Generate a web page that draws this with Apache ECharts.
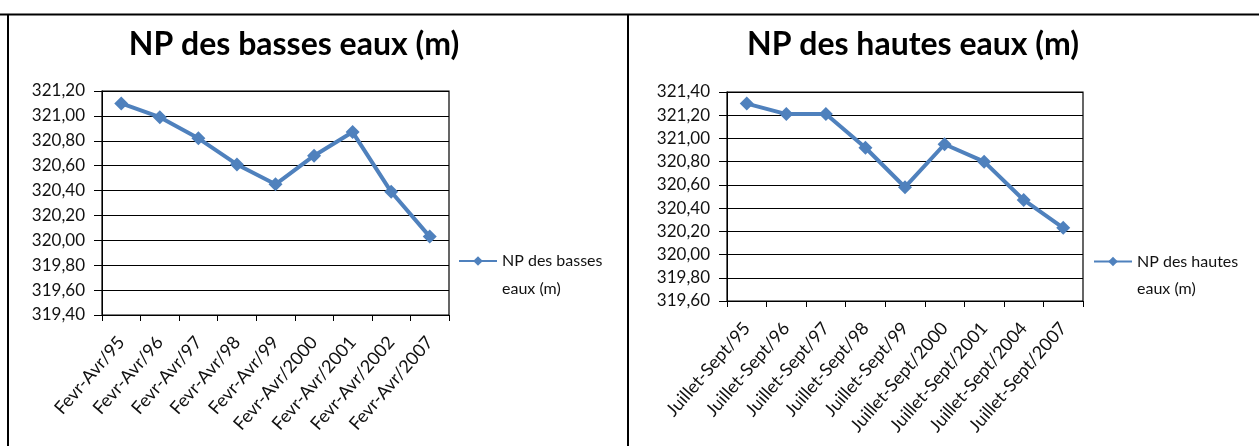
<!DOCTYPE html>
<html>
<head>
<meta charset="utf-8">
<script src="https://cdn.jsdelivr.net/npm/echarts@6/dist/echarts.min.js"></script>
<style>
  html, body { margin: 0; padding: 0; background: #fff; }
  #chart { width: 1259px; height: 446px; }
</style>
</head>
<body>
<div id="chart"></div>
<script>
// basses eaux (Fevr-Avr)
const bassesCategories = ['Fevr-Avr/95', 'Fevr-Avr/96', 'Fevr-Avr/97', 'Fevr-Avr/98', 'Fevr-Avr/99',
  'Fevr-Avr/2000', 'Fevr-Avr/2001', 'Fevr-Avr/2002', 'Fevr-Avr/2007'];
const bassesValues = [321.10, 320.99, 320.82, 320.61, 320.45, 320.68, 320.87, 320.39, 320.03];

// hautes eaux (Juillet-Sept)
const hautesCategories = ['Juillet-Sept/95', 'Juillet-Sept/96', 'Juillet-Sept/97', 'Juillet-Sept/98', 'Juillet-Sept/99',
  'Juillet-Sept/2000', 'Juillet-Sept/2001', 'Juillet-Sept/2004', 'Juillet-Sept/2007'];
const hautesValues = [321.30, 321.21, 321.21, 320.92, 320.58, 320.95, 320.80, 320.47, 320.23];

const bassesName = 'NP des basses eaux (m)';
const hautesName = 'NP des hautes eaux (m)';

const FONT = 'Lato, "Open Sans", "DejaVu Sans", sans-serif';
const BLUE = '#4F81BD';

const chart = echarts.init(document.getElementById('chart'));

function fmt(v) {
  return v.toFixed(2).replace('.', ',');
}

function yAxis(idx, min, max) {
  return {
    gridIndex: idx,
    type: 'value',
    min: min,
    max: max,
    interval: 0.2,
    axisLine: { show: true, lineStyle: { color: '#000', width: 1 } },
    axisTick: { show: true, length: 8, lineStyle: { color: '#000' } },
    splitLine: { show: true, lineStyle: { color: '#000', width: 1.2 } },
    axisLabel: { color: '#111', fontSize: 17, fontFamily: FONT, margin: 17, formatter: fmt }
  };
}

function xAxis(idx, cats) {
  return {
    gridIndex: idx,
    type: 'category',
    data: cats,
    boundaryGap: true,
    axisLine: { show: true, lineStyle: { color: '#000', width: 1.2 } },
    axisTick: { show: true, length: 6, lineStyle: { color: '#000' } },
    splitLine: { show: false },
    axisLabel: { color: '#111', fontSize: 18, fontFamily: FONT, rotate: 49, margin: 24, interval: 0 }
  };
}

// first line blank so the icon sits on the "NP des ..." line
const legendText = {
  [bassesName]: '\nNP des basses\neaux (m)',
  [hautesName]: '\nNP des hautes\neaux (m)'
};

const option = {
  backgroundColor: '#fff',
  animation: false,
  title: [
    { text: bassesName, left: 289, top: 24, textAlign: 'center',
      textStyle: { fontSize: 32, fontWeight: 'bold', fontFamily: FONT, color: '#000' } },
    { text: hautesName, left: 908, top: 24, textAlign: 'center',
      textStyle: { fontSize: 32, fontWeight: 'bold', fontFamily: FONT, color: '#000' } }
  ],
  legend: [
    { data: [bassesName], left: 453, top: 214, itemWidth: 38, itemHeight: 12, itemGap: 4,
      formatter: name => legendText[name],
      textStyle: { fontSize: 16, fontFamily: FONT, color: '#111', lineHeight: 28 } },
    { data: [hautesName], left: 1088, top: 216, itemWidth: 38, itemHeight: 12, itemGap: 4,
      formatter: name => legendText[name],
      textStyle: { fontSize: 16, fontFamily: FONT, color: '#111', lineHeight: 27 } }
  ],
  grid: [
    { left: 102, top: 91, width: 347, height: 224, show: true, borderColor: '#000', borderWidth: 1.2 },
    { left: 727, top: 92, width: 356, height: 209, show: true, borderColor: '#000', borderWidth: 1.2 }
  ],
  xAxis: [xAxis(0, bassesCategories), xAxis(1, hautesCategories)],
  yAxis: [yAxis(0, 319.4, 321.2), yAxis(1, 319.6, 321.4)],
  series: [
    { name: bassesName, type: 'line', xAxisIndex: 0, yAxisIndex: 0, data: bassesValues,
      symbol: 'diamond', symbolSize: 14, color: BLUE,
      lineStyle: { color: BLUE, width: 4 }, itemStyle: { color: BLUE } },
    { name: hautesName, type: 'line', xAxisIndex: 1, yAxisIndex: 1, data: hautesValues,
      symbol: 'diamond', symbolSize: 14, color: BLUE,
      lineStyle: { color: BLUE, width: 4 }, itemStyle: { color: BLUE } }
  ],
  graphic: [
    // panel frames
    { type: 'line', shape: { x1: 0, y1: 14.5, x2: 1259, y2: 14.5 }, style: { stroke: '#000', lineWidth: 2 } },
    { type: 'line', shape: { x1: 8, y1: 14, x2: 8, y2: 446 }, style: { stroke: '#000', lineWidth: 2 } },
    { type: 'line', shape: { x1: 628, y1: 14, x2: 628, y2: 446 }, style: { stroke: '#000', lineWidth: 2 } }
  ]
};

chart.setOption(option);
</script>
</body>
</html>
